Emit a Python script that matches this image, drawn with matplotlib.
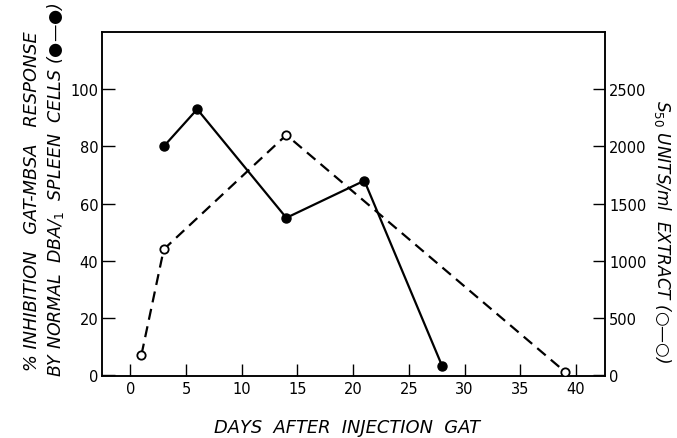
import numpy as np
import matplotlib
matplotlib.use('agg')
import matplotlib.pyplot as plt

# Inhibition by spleen cells (filled circles, solid line)
days_inhib = [3, 6, 14, 21, 28]
pct_inhib = [80, 93, 55, 68, 3]

# S50 units per ml of extract (open circles, dashed line)
days_s50 = [1, 3, 14, 39]
s50_units = [180, 1100, 2100, 30]

x_ticks = [0, 5, 10, 15, 20, 25, 30, 35, 40]
left_ticks = [0, 20, 40, 60, 80, 100]
right_ticks = [0, 500, 1000, 1500, 2000, 2500]

plt.rcParams['font.family'] = ['DejaVu Sans']

fig = plt.figure(figsize=(6.77, 4.39), dpi=100)
ax = fig.add_axes((0.1514, 0.1401, 0.7423, 0.7847))
ax2 = ax.twinx()

ax.plot(days_inhib, pct_inhib, color='black', linewidth=1.6, marker='o',
        markersize=6.5, markerfacecolor='black', zorder=3)
ax2.plot(days_s50, s50_units, color='black', linewidth=1.6,
         linestyle=(0, (5, 3)), marker='o', markersize=6,
         markerfacecolor='white', markeredgewidth=1.3, zorder=3)

ax.set_xlim(-2.5, 42.6)
ax.set_ylim(-0.5, 120)
ax2.set_ylim(-12, 3000)

ax.set_xticks(x_ticks)
ax.set_yticks(left_ticks)
ax2.set_yticks(right_ticks)

for a in (ax, ax2):
    a.tick_params(direction='in', length=9, width=1, labelsize=10.5, pad=3)
    for s in a.spines.values():
        s.set_linewidth(1.1)

fig.text(0.047, 0.541, "% INHIBITION   GAT-MBSA   RESPONSE", rotation=90,
         ha='center', va='center', fontsize=12.8, style='italic')
fig.text(0.082, 0.567, "BY NORMAL  DBA/$_1$  SPLEEN  CELLS (\u25cf\u2014\u25cf)",
         rotation=90, ha='center', va='center', fontsize=12.5, style='italic')
fig.text(0.979, 0.472, "S$_{50}$ UNITS/ml  EXTRACT (\u25cb\u2014\u25cb)",
         rotation=-90, ha='center', va='center', fontsize=12.2,
         style='italic')
fig.text(0.512, 0.025, "DAYS  AFTER  INJECTION  GAT", ha='center',
         va='center', fontsize=12.9, style='italic')

fig.savefig('out.png', dpi=100)
